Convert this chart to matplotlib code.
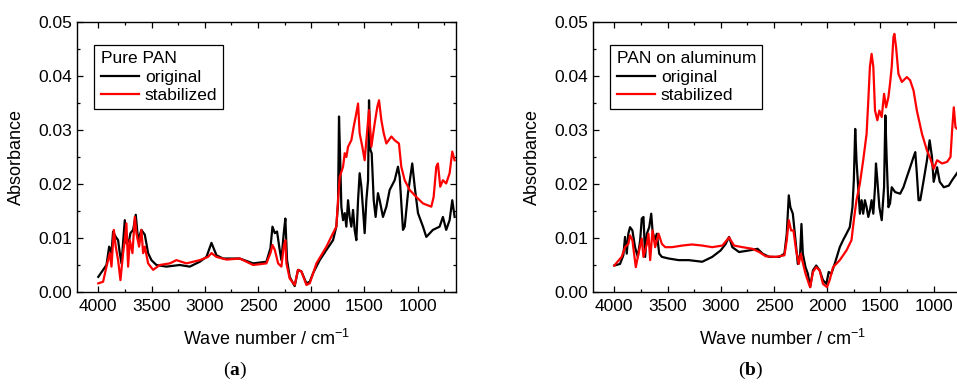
import matplotlib
matplotlib.use("Agg")
import matplotlib.pyplot as plt
from matplotlib.ticker import MultipleLocator

plt.rcParams['font.family'] = ['Liberation Sans', 'DejaVu Sans']
plt.rcParams['mathtext.fontset'] = 'custom'
plt.rcParams['mathtext.rm'] = 'Liberation Sans'
plt.rcParams['mathtext.it'] = 'Liberation Sans:italic'
plt.rcParams['mathtext.bf'] = 'Liberation Serif:bold'

# (a) Pure PAN - original
wn_a_orig = [4000, 3923, 3898, 3876, 3861, 3836, 3814, 3798, 3782, 3751, 3736, 3710, 3698, 3673,
             3648, 3626, 3595, 3563, 3532, 3501, 3454, 3360, 3235, 3141, 3047, 2984, 2937, 2890,
             2828, 2671, 2546, 2421, 2383, 2364, 2342, 2321, 2296, 2280, 2258, 2243, 2227, 2202,
             2170, 2155, 2124, 2092, 2045, 2014, 1982, 1920, 1857, 1795, 1764, 1748, 1739, 1726,
             1717, 1701, 1685, 1670, 1654, 1639, 1623, 1607, 1592, 1576, 1560, 1545, 1529, 1513,
             1498, 1482, 1466, 1457, 1444, 1432, 1413, 1395, 1373, 1357, 1326, 1294, 1263, 1216,
             1185, 1169, 1138, 1122, 1091, 1051, 1028, 997, 950, 919, 857, 794, 763, 732, 700,
             675, 653]
ab_a_orig = [0.0028, 0.0050, 0.0084, 0.0072, 0.0112, 0.0102, 0.0096, 0.0072, 0.0053, 0.0133,
             0.0090, 0.0096, 0.0109, 0.0115, 0.0143, 0.0096, 0.0115, 0.0106, 0.0072, 0.0059,
             0.0050, 0.0047, 0.0050, 0.0047, 0.0056, 0.0065, 0.0091, 0.0068, 0.0062, 0.0062,
             0.0053, 0.0056, 0.0081, 0.0121, 0.0109, 0.0112, 0.0078, 0.0059, 0.0109, 0.0136,
             0.0059, 0.0028, 0.0016, 0.0011, 0.0041, 0.0038, 0.0016, 0.0019, 0.0035, 0.0059,
             0.0078, 0.0096, 0.0121, 0.0164, 0.0325, 0.0232, 0.0158, 0.0133, 0.0146, 0.0121,
             0.0170, 0.0139, 0.0121, 0.0152, 0.0115, 0.0096, 0.0170, 0.0220, 0.0195, 0.0152,
             0.0109, 0.0170, 0.0207, 0.0355, 0.0263, 0.0257, 0.0170, 0.0139, 0.0183, 0.0170,
             0.0139, 0.0158, 0.0189, 0.0207, 0.0232, 0.0213, 0.0115, 0.0121, 0.0183, 0.0238,
             0.0195, 0.0146, 0.0121, 0.0102, 0.0115, 0.0121, 0.0139, 0.0115, 0.0133, 0.0170,
             0.0139]

# (a) Pure PAN - stabilized
wn_a_stab = [4000, 3955, 3923, 3892, 3876, 3854, 3836, 3814, 3792, 3767, 3751, 3736, 3720, 3704,
             3679, 3657, 3642, 3617, 3595, 3579, 3563, 3532, 3485, 3422, 3328, 3266, 3172, 3047,
             2969, 2937, 2890, 2796, 2671, 2546, 2421, 2383, 2364, 2342, 2311, 2280, 2258, 2243,
             2233, 2202, 2155, 2124, 2092, 2045, 2014, 1951, 1857, 1795, 1764, 1748, 1732, 1701,
             1685, 1670, 1654, 1623, 1601, 1582, 1560, 1545, 1520, 1498, 1482, 1457, 1435, 1404,
             1379, 1363, 1341, 1319, 1294, 1247, 1216, 1176, 1154, 1122, 1075, 1013, 950, 872,
             850, 825, 810, 788, 763, 732, 700, 675, 653]
ab_a_stab = [0.0016, 0.0019, 0.0047, 0.0072, 0.0047, 0.0115, 0.0084, 0.0059, 0.0022, 0.0072,
             0.0096, 0.0127, 0.0047, 0.0096, 0.0072, 0.0139, 0.0109, 0.0084, 0.0115, 0.0072,
             0.0084, 0.0053, 0.0041, 0.0050, 0.0053, 0.0059, 0.0053, 0.0059, 0.0065, 0.0072,
             0.0065, 0.0060, 0.0062, 0.0050, 0.0053, 0.0072, 0.0087, 0.0078, 0.0053, 0.0047,
             0.0084, 0.0096, 0.0053, 0.0025, 0.0013, 0.0041, 0.0038, 0.0013, 0.0016, 0.0053,
             0.0084, 0.0109, 0.0121, 0.0170, 0.0213, 0.0232, 0.0257, 0.0250, 0.0269, 0.0281,
             0.0306, 0.0325, 0.0349, 0.0294, 0.0269, 0.0244, 0.0281, 0.0337, 0.0269, 0.0312,
             0.0343, 0.0355, 0.0318, 0.0294, 0.0275, 0.0288, 0.0281, 0.0275, 0.0232, 0.0207,
             0.0189, 0.0176, 0.0164, 0.0158, 0.0176, 0.0232, 0.0238, 0.0195, 0.0207, 0.0201,
             0.0220, 0.0260, 0.0244]

# (b) PAN on aluminum - original
wn_b_orig = [4000, 3946, 3915, 3899, 3883, 3868, 3852, 3830, 3805, 3779, 3757, 3742, 3726, 3710,
             3694, 3672, 3653, 3641, 3622, 3600, 3578, 3553, 3489, 3395, 3300, 3174, 3080, 3001,
             2954, 2922, 2891, 2828, 2733, 2654, 2607, 2544, 2450, 2402, 2380, 2361, 2346, 2323,
             2298, 2276, 2254, 2242, 2229, 2204, 2182, 2160, 2134, 2103, 2071, 2040, 2008, 1986,
             1961, 1930, 1882, 1851, 1819, 1788, 1763, 1750, 1737, 1725, 1709, 1693, 1677, 1662,
             1646, 1630, 1614, 1599, 1583, 1567, 1551, 1542, 1529, 1510, 1488, 1466, 1454, 1441,
             1425, 1410, 1394, 1362, 1315, 1284, 1252, 1221, 1189, 1173, 1158, 1142, 1126, 1094,
             1063, 1038, 1016, 1000, 968, 943, 905, 858, 827, 795, 764, 748]
ab_b_orig = [0.0049, 0.0052, 0.0068, 0.0102, 0.0071, 0.0108, 0.0120, 0.0114, 0.0083, 0.0065,
             0.0096, 0.0136, 0.0139, 0.0065, 0.0108, 0.0120, 0.0145, 0.0114, 0.0096, 0.0108,
             0.0071, 0.0065, 0.0062, 0.0059, 0.0059, 0.0056, 0.0065, 0.0077, 0.0089, 0.0102,
             0.0083, 0.0074, 0.0077, 0.0080, 0.0071, 0.0065, 0.0065, 0.0071, 0.0108, 0.0179,
             0.0157, 0.0145, 0.0096, 0.0052, 0.0071, 0.0126, 0.0071, 0.0046, 0.0034, 0.0009,
             0.0040, 0.0049, 0.0040, 0.0022, 0.0015, 0.0037, 0.0034, 0.0052, 0.0083, 0.0096,
             0.0108, 0.0120, 0.0157, 0.0207, 0.0302, 0.0244, 0.0194, 0.0145, 0.0170, 0.0145,
             0.0170, 0.0157, 0.0139, 0.0151, 0.0170, 0.0145, 0.0194, 0.0238, 0.0207, 0.0157,
             0.0133, 0.0194, 0.0327, 0.0244, 0.0157, 0.0164, 0.0194, 0.0185, 0.0182, 0.0194,
             0.0213, 0.0231, 0.0250, 0.0259, 0.0219, 0.0170, 0.0170, 0.0207, 0.0244, 0.0281,
             0.0250, 0.0204, 0.0231, 0.0204, 0.0194, 0.0197, 0.0207, 0.0216, 0.0225, 0.0213]

# (b) PAN on aluminum - stabilized
wn_b_stab = [4000, 3931, 3899, 3868, 3852, 3830, 3798, 3773, 3742, 3726, 3694, 3679, 3663, 3641,
             3616, 3584, 3553, 3521, 3458, 3363, 3269, 3174, 3080, 2985, 2922, 2875, 2796, 2702,
             2639, 2576, 2481, 2402, 2380, 2361, 2339, 2317, 2292, 2267, 2248, 2235, 2204, 2172,
             2160, 2134, 2103, 2071, 2040, 2002, 1977, 1945, 1882, 1819, 1772, 1750, 1725, 1693,
             1662, 1630, 1614, 1599, 1583, 1567, 1551, 1529, 1510, 1488, 1466, 1447, 1425, 1410,
             1394, 1378, 1369, 1353, 1331, 1299, 1252, 1221, 1189, 1158, 1110, 1063, 1031, 1000,
             968, 921, 874, 842, 827, 811, 795, 779, 748]
ab_b_stab = [0.0049, 0.0065, 0.0083, 0.0089, 0.0105, 0.0096, 0.0046, 0.0071, 0.0099, 0.0065,
             0.0089, 0.0108, 0.0059, 0.0114, 0.0083, 0.0108, 0.0089, 0.0083, 0.0083, 0.0086,
             0.0088, 0.0086, 0.0083, 0.0086, 0.0101, 0.0086, 0.0083, 0.0080, 0.0074, 0.0066,
             0.0065, 0.0068, 0.0096, 0.0133, 0.0114, 0.0114, 0.0077, 0.0052, 0.0071, 0.0059,
             0.0034, 0.0015, 0.0009, 0.0037, 0.0046, 0.0040, 0.0015, 0.0009, 0.0022, 0.0046,
             0.0059, 0.0077, 0.0096, 0.0133, 0.0170, 0.0201, 0.0244, 0.0293, 0.0355, 0.0417,
             0.0441, 0.0417, 0.0336, 0.0318, 0.0336, 0.0324, 0.0367, 0.0342, 0.0361, 0.0386,
             0.0417, 0.0472, 0.0478, 0.0453, 0.0404, 0.0389, 0.0398, 0.0392, 0.0373, 0.0336,
             0.0293, 0.0262, 0.0247, 0.0228, 0.0244, 0.0238, 0.0241, 0.0250, 0.0299, 0.0342,
             0.0305, 0.0302, 0.0299]

titles = ["Pure PAN", "PAN on aluminum"]
panel_tags = ["a", "b"]
series = [(wn_a_orig, ab_a_orig, wn_a_stab, ab_a_stab),
          (wn_b_orig, ab_b_orig, wn_b_stab, ab_b_stab)]

W, H = 957, 385
fig = plt.figure(figsize=(W / 100, H / 100), dpi=100)

lefts = [77, 593]
for i, left in enumerate(lefts):
    ax = fig.add_axes([left / W, 93 / H, 379 / W, 270 / H])
    wo, ao, ws, as_ = series[i]
    ax.plot(wo, ao, color="black", lw=1.6, label="original")
    ax.plot(ws, as_, color="#ff0000", lw=1.6, label="stabilized")

    ax.set_xlim(4200, 640)
    ax.set_ylim(0, 0.05)
    ax.xaxis.set_major_locator(MultipleLocator(500))
    ax.xaxis.set_minor_locator(MultipleLocator(250))
    ax.yaxis.set_major_locator(MultipleLocator(0.01))
    ax.yaxis.set_minor_locator(MultipleLocator(0.005))
    ax.set_xticks([4000, 3500, 3000, 2500, 2000, 1500, 1000])
    ax.yaxis.set_major_formatter(plt.FormatStrFormatter("%.2f"))
    ax.tick_params(which="both", direction="in", top=True, right=True, width=0.9)
    ax.tick_params(which="major", length=4.5, labelsize=12.5)
    ax.tick_params(which="minor", length=2.5)
    ax.tick_params(axis="x", pad=5)
    ax.tick_params(axis="y", pad=3.5)
    for s in ax.spines.values():
        s.set_linewidth(1.0)

    ax.set_xlabel("Wave number / cm$^{-1}$", fontsize=13)
    ax.set_ylabel("Absorbance", fontsize=13)
    ax.xaxis.set_label_coords(0.5, -0.135)
    ax.yaxis.set_label_coords(-0.137, 0.5)

    leg = ax.legend(title=titles[i], loc="upper left", bbox_to_anchor=(0.046, 0.915),
                    borderaxespad=0, fontsize=12.5, title_fontsize=12.5, fancybox=False,
                    edgecolor="black", framealpha=1, handlelength=2.2, handletextpad=0.35,
                    labelspacing=0.2, borderpad=0.35)
    leg.get_frame().set_linewidth(0.9)
    leg._legend_box.align = "left"

    fig.text((left + 158) / W, 1 - 370 / H, r"$\mathdefault{(}\mathbf{%s}\mathdefault{)}$" % panel_tags[i],
             family="Liberation Serif", fontsize=14, ha="center", va="center")

fig.savefig("out.png", dpi=100)
